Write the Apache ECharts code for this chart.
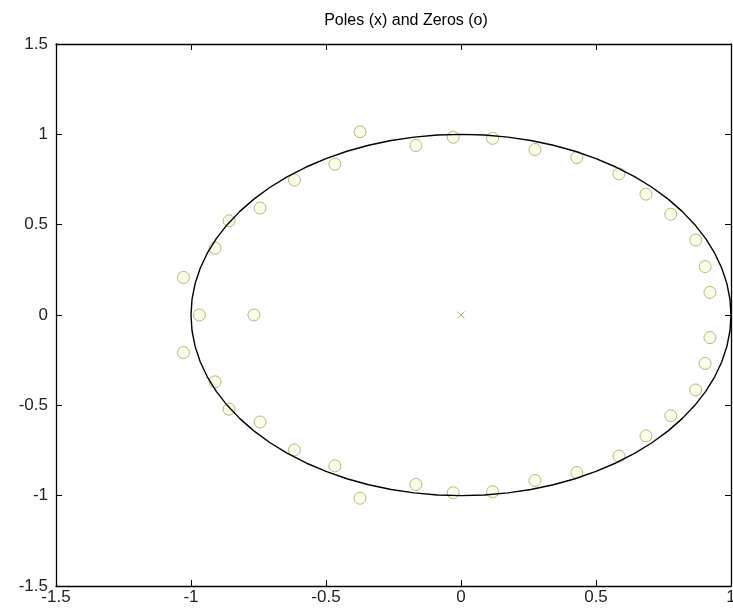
<!DOCTYPE html>
<html>
<head>
<meta charset="utf-8">
<script src="https://cdn.jsdelivr.net/npm/echarts@6/dist/echarts.min.js"></script>
<style>
html,body{margin:0;padding:0;background:#fff;}
#chart{width:733px;height:616px;}
</style>
</head>
<body>
<div id="chart"></div>
<script>
// Zeros in the upper half-plane (real, imag); lower half are complex conjugates
const zeroReUpper = [-0.374, -0.467, -0.167, -0.029, 0.117, 0.274, 0.429, 0.585, 0.685, 0.777, 0.869, 0.904, 0.922, -0.617, -0.744, -0.859, -0.911, -1.028];
const zeroImUpper = [1.014, 0.835, 0.938, 0.984, 0.978, 0.916, 0.872, 0.781, 0.669, 0.558, 0.415, 0.268, 0.125, 0.747, 0.592, 0.521, 0.370, 0.208];
// Real zeros
const zeroReReal = [-0.969, -0.767];
// Poles
const poleRe = [0];
const poleIm = [0];
// Axis ticks
const xTicks = [-1.5, -1, -0.5, 0, 0.5, 1];
const yTicks = [-1.5, -1, -0.5, 0, 0.5, 1, 1.5];
const titleText = 'Poles (x) and Zeros (o)';

// Unit circle reference curve
const circleSteps = 72;
const unitCircle = [];
for (let i = 0; i <= circleSteps; i++) {
  const t = 2 * Math.PI * i / circleSteps;
  unitCircle.push([Math.cos(t), Math.sin(t)]);
}

const zeros = [];
zeroReUpper.forEach((r, i) => { zeros.push([r, zeroImUpper[i]]); zeros.push([r, -zeroImUpper[i]]); });
zeroReReal.forEach(r => zeros.push([r, 0]));
const poles = poleRe.map((r, i) => [r, poleIm[i]]);

const font = 'Liberation Sans, Arial, sans-serif';
const axisCommon = {
  type: 'value',
  interval: 0.5,
  axisLine: { show: true, onZero: false, lineStyle: { color: '#000', width: 1.3 } },
  axisTick: { show: true, inside: true, length: 6, lineStyle: { color: '#000', width: 1 } },
  splitLine: { show: false }
};

const chart = echarts.init(document.getElementById('chart'), null, { renderer: 'canvas' });
chart.setOption({
  animation: false,
  backgroundColor: '#fff',
  title: {
    text: titleText, left: 401, top: 8, textAlign: 'center',
    textStyle: { fontFamily: font, fontSize: 16, fontWeight: 'normal', color: '#000' }
  },
  grid: { left: 56, right: 2, top: 44, bottom: 30, containLabel: false, outerBoundsMode: 'none' },
  xAxis: [
    Object.assign({}, axisCommon, { position: 'bottom', min: xTicks[0], max: xTicks[xTicks.length - 1],
      axisLabel: { show: true, margin: 3, fontFamily: font, fontSize: 17, color: '#222', formatter: v => String(v), showMaxLabel: true, showMinLabel: true } }),
    Object.assign({}, axisCommon, { position: 'top', min: xTicks[0], max: xTicks[xTicks.length - 1], axisLabel: { show: false } })
  ],
  yAxis: [
    Object.assign({}, axisCommon, { position: 'left', min: yTicks[0], max: yTicks[yTicks.length - 1],
      axisLabel: { show: true, margin: 8, fontFamily: font, fontSize: 17, color: '#222', formatter: v => String(v), showMaxLabel: true, showMinLabel: true } }),
    Object.assign({}, axisCommon, { position: 'right', min: yTicks[0], max: yTicks[yTicks.length - 1], axisLabel: { show: false } })
  ],
  series: [
    {
      type: 'scatter', name: 'zeros', data: zeros, symbol: 'circle', symbolSize: 12, z: 2,
      itemStyle: { color: 'rgba(250,250,215,0.7)', borderColor: '#a8a55c', borderWidth: 1 }
    },
    {
      type: 'scatter', name: 'poles', data: poles, symbol: 'path://M0,0L10,10M10,0L0,10', symbolSize: 7, z: 2,
      itemStyle: { color: 'none', borderColor: '#a8a55c', borderWidth: 1 }
    },
    {
      type: 'line', name: 'unit circle', data: unitCircle, showSymbol: false, smooth: false, z: 3,
      lineStyle: { color: '#000', width: 1.4 }
    }
  ]
});
</script>
</body>
</html>
